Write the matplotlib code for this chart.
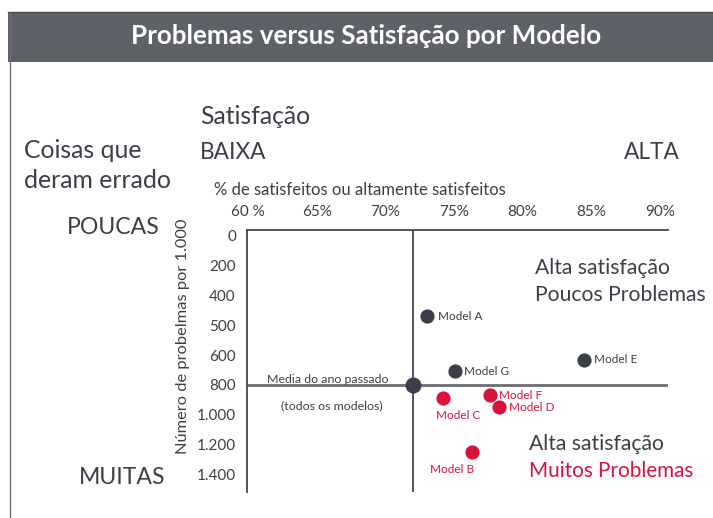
import numpy as np
import matplotlib
matplotlib.use('Agg')
from matplotlib import pyplot as plt
from matplotlib.patches import Rectangle

plt.rcParams['font.family'] = ['Lato', 'DejaVu Sans']

# data
models = ['Model A', 'Model G', 'Model E', 'Model C', 'Model F', 'Model D', 'Model B']
satisf = [73.0, 75.1, 84.5, 74.2, 77.6, 78.3, 76.3]
problems = [470, 710, 630, 890, 870, 950, 1250]
groups = ['low', 'low', 'low', 'high', 'high', 'high', 'high']
avg_satisf = 72
avg_problems = 800

x_ticks = [60, 65, 70, 75, 80, 85, 90]
x_labels = ['60 %', '65%', '70%', '75%', '80%', '85%', '90%']
y_ticks = [0, 200, 400, 500, 600, 800, 1000, 1200, 1400]
y_labels = ['0', '200', '400', '500', '600', '800', '1.000', '1.200', '1.400']

dark = '#3b3e48'
red = '#d8123c'
txt = '#3c3f47'

# y axis is evenly spaced by tick, not linear
scale_vals = np.array([-200] + y_ticks + [1600], dtype=float)
scale_pos = np.arange(-1, len(y_ticks) + 1, dtype=float)
def fwd(v):
    return np.interp(v, scale_vals, scale_pos)
def inv(p):
    return np.interp(p, scale_pos, scale_vals)

fig = plt.figure(figsize=(7.13, 5.18), dpi=100)
W, H = 713, 518
def fx(px): return px / W
def fy(py): return 1 - py / H

# title bar and frame
fig.patches.append(Rectangle((fx(8), fy(62)), 1, 50/H, transform=fig.transFigure,
                             facecolor='#5f6169', edgecolor='none', zorder=0))
fig.lines.append(plt.Line2D([fx(8), 1], [fy(12), fy(12)], transform=fig.transFigure, color='#44464e', lw=1))
fig.lines.append(plt.Line2D([fx(9.5), fx(9.5)], [fy(12), 0], transform=fig.transFigure, color='#6a6c74', lw=1))
fig.text(fx(366), fy(36), 'Problemas versus Satisfação por Modelo', color='white', fontsize=18.7,
         fontweight='bold', ha='center', va='center')

ax = fig.add_axes([fx(247), fy(492), fx(668) - fx(247), (492 - 230) / H])
ax.set_yscale('function', functions=(fwd, inv))
ax.set_xlim(59.9, 90.6)
ax.set_ylim(inv(8.57), inv(-0.17))

ax.xaxis.tick_top()
ax.set_xticks(x_ticks)
ax.set_xticklabels(x_labels)
ax.set_yticks(y_ticks)
ax.set_yticklabels(y_labels)
ax.yaxis.set_minor_locator(matplotlib.ticker.NullLocator())
ax.tick_params(length=0, labelsize=11, labelcolor=txt, pad=8)
for s in ['right', 'bottom']:
    ax.spines[s].set_visible(False)
ax.spines['top'].set_color('#44464e')
ax.spines['left'].set_color('#44464e')
ax.spines['top'].set_linewidth(1.3)
ax.spines['left'].set_linewidth(1.3)
ax.set_ylabel('Número de probelmas por 1.000', fontsize=11.8, color=txt)
ax.yaxis.set_label_coords((190 - 247) / 421, (492 - 336) / 262)

ax.axhline(avg_problems, color='#6b6d73', lw=2, zorder=1)
ax.axvline(avg_satisf, color='#44464e', lw=1.3, zorder=1)
ax.scatter([avg_satisf], [avg_problems], s=110, color=dark, zorder=3)

offsets = {'Model A': (8, 0, 'left'), 'Model G': (6, 0, 'left'), 'Model E': (7, 0, 'left'),
           'Model F': (7, 0, 'left'), 'Model D': (7, 0, 'left'),
           'Model C': (-5, -12, 'left'), 'Model B': (-14, -12, 'center')}
for m, xv, yv, g in zip(models, satisf, problems, groups):
    c = dark if g == 'low' else red
    ax.scatter([xv], [yv], s=85, color=c, zorder=3)
    dx, dy, ha = offsets[m]
    ax.annotate(m, (xv, yv), xytext=(dx, dy), textcoords='offset points', fontsize=8.5,
                color=txt if g == 'low' else red, ha=ha, va='center')

ax.text(65.8, 800, 'Media do ano passado', transform=ax.transData, fontsize=8.9, color=txt,
        ha='center', va='bottom')
ax.text(66.1, inv(5.7), '(todos os modelos)', fontsize=8.9, color=txt, ha='center', va='center')

# side labels
fig.text(fx(200), fy(117), 'Satisfação', fontsize=17.8, color=txt, va='center')
fig.text(fx(200), fy(152), 'BAIXA', fontsize=16.3, color=txt, va='center')
fig.text(fx(680), fy(152), 'ALTA', fontsize=16.3, color=txt, va='center', ha='right')
fig.text(fx(24), fy(150), 'Coisas que', fontsize=17.8, color=txt, va='center')
fig.text(fx(24), fy(180), 'deram errado', fontsize=17.8, color=txt, va='center')
fig.text(fx(214), fy(190), '% de satisfeitos ou altamente satisfeitos', fontsize=12, color=txt, va='center')
fig.text(fx(160), fy(228), 'POUCAS', fontsize=16.6, color=txt, va='center', ha='right')
fig.text(fx(165), fy(478), 'MUITAS', fontsize=16.6, color=txt, va='center', ha='right')
fig.text(fx(535), fy(268), 'Alta satisfação', fontsize=15.2, color=txt, va='center')
fig.text(fx(535), fy(295), 'Poucos Problemas', fontsize=15.2, color=txt, va='center')
fig.text(fx(529), fy(444), 'Alta satisfação', fontsize=15.2, color=txt, va='center')
fig.text(fx(529), fy(471), 'Muitos Problemas', fontsize=14.9, color=red, va='center')

fig.savefig('out.png', dpi=100)
